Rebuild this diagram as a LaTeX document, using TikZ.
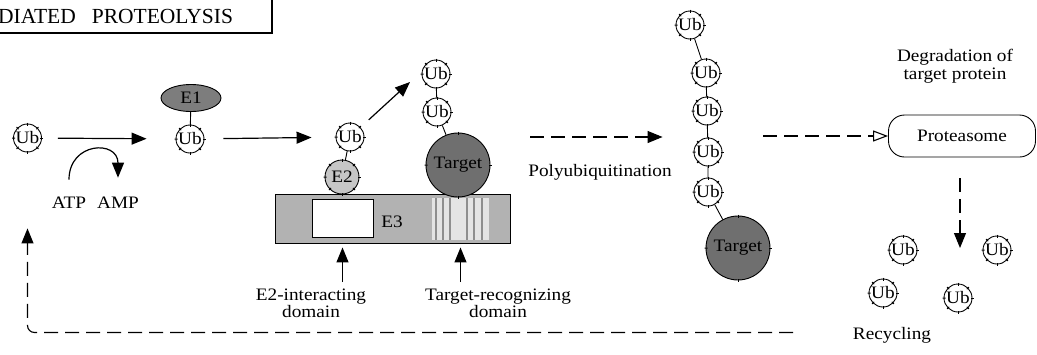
\documentclass[tikz,border=0pt]{standalone}
\usepackage{fontspec}
\setmainfont{Liberation Serif}[FakeStretch=1.1]
\newfontfamily\headfont{Liberation Serif}
\usetikzlibrary{arrows.meta,shapes.geometric,decorations.markings}
\definecolor{GrisEnz}{HTML}{7D7D7D}
\definecolor{GrisDiana}{HTML}{6F6F6F}
\definecolor{GrisClaro}{HTML}{C6C6C6}
\definecolor{GrisBarra}{HTML}{B2B2B2}
\definecolor{GrisFranja}{HTML}{E4E4E4}
\definecolor{GrisLinea}{HTML}{8E8E8E}

\begin{document}
\begin{tikzpicture}[
  x=1pt,y=-1pt,
  every node/.style={font=\fontsize{17.5}{18}\selectfont},
  marcas/.style={postaction={decorate,decoration={markings,
      mark=between positions 0 and 0.99 step #1 with {\draw[line width=1pt] (0,-1.5pt) -- (0,1.5pt);}}}},
  ub/.style={circle,draw,line width=0.9pt,fill=white,minimum size=28pt,inner sep=0pt,marcas=0.125},
  diana/.style={circle,draw,line width=0.9pt,fill=GrisDiana,minimum size=64pt,inner sep=0pt,marcas=0.25},
  enlace/.style={line width=0.9pt},
  flow/.style={-{Triangle[length=15pt,width=12pt]},line width=1.2pt},
  dflow/.style={flow,line width=1.1pt,dash pattern=on 14pt off 7pt},
  etiqueta/.style={align=center,inner sep=0pt,font=\fontsize{17.5}{15}\selectfont}
]
  \useasboundingbox (0,0) rectangle (1037,354);
  \clip (0,0) rectangle (1037,354);

  % titulo
  \draw[line width=2.4pt] (-10,-10) rectangle (272,33);
  \node[anchor=base west,inner sep=0pt,font=\headfont\fontsize{21.5}{22}\selectfont] (titulo)
    at (-2,23) {DIATED\hspace{16pt}PROTEOLYSIS};

  % activacion E1
  \node[ub] (ub0) at (27.5,138) {Ub};
  \node[ellipse,draw,line width=0.9pt,fill=GrisEnz,minimum width=60pt,minimum height=27pt,inner sep=0pt]
    (e1) at (191,98) {E1};
  \node[ub] (ub1) at (190,139) {Ub};
  \draw[enlace] (e1) -- (ub1);
  \node (atp) at (69,203) {ATP};
  \node (amp) at (118,203) {AMP};
  \draw[flow,shorten <=16pt,shorten >=29pt] (ub0) -- (ub1);
  \draw[flow] ([yshift=14pt]atp.north) .. controls +(0,-38) and +(0,-38) .. ([yshift=16pt]amp.north);

  % E3 con dominios
  \node[draw,line width=0.9pt,fill=GrisBarra,minimum width=235pt,minimum height=49pt,inner sep=0pt]
    (e3) at (392.5,218.5) {};
  \node[draw,line width=0.9pt,fill=white,minimum width=61pt,minimum height=38pt,inner sep=0pt]
    (dome2) at (342.5,218) {};
  \node (e3lab) at (392,222) {E3};
  \node[fill=GrisFranja,minimum width=57pt,minimum height=42pt,inner sep=0pt] (domdiana) at (460.5,219) {};
  \foreach \x in {436,443,450,467,474,482}
    \draw[GrisLinea,line width=2pt] (\x,198) -- (\x,240);

  \node[circle,draw,line width=0.9pt,fill=GrisClaro,minimum size=34pt,inner sep=0pt,marcas=0.125]
    (e2) at (342,177) {E2};
  \node[ub] (ub2) at (350,137) {Ub};
  \draw[enlace] (ub2) -- (e2);
  \draw[flow,shorten <=19pt,shorten >=24pt] (ub1) -- (ub2);

  \node[diana] (diana1) at (458,165) {Target};
  \node[ub] (ub3) at (437,112) {Ub};
  \node[ub] (ub4) at (436,74) {Ub};
  \draw[enlace] (ub4) -- (ub3) -- (diana1);
  \coordinate (salto) at (410,82);
  \draw[flow,shorten <=11pt] (ub2) -- (salto);

  \node[etiqueta,anchor=north] (labe2) at (311,289) {E2-interacting\\domain};
  \node[etiqueta,anchor=north] (labdiana) at (498,289) {Target-recognizing\\domain};
  \draw[flow,shorten <=7pt,shorten >=4pt] (labe2.north -| dome2) -- (dome2 |- e3.south);
  \draw[flow,shorten <=7pt,shorten >=4pt] (labdiana.north -| domdiana) -- (domdiana |- e3.south);

  % poliubiquitinacion
  \node (poly) at (600,172) {Polyubiquitination};
  \coordinate (polyin) at (530,137);
  \node[ub] (ub5) at (690,25) {Ub};
  \node[ub] (ub6) at (706,73) {Ub};
  \node[ub] (ub7) at (707,111) {Ub};
  \node[ub] (ub8) at (708,152) {Ub};
  \node[ub] (ub9) at (708,192) {Ub};
  \node[diana] (diana2) at (738,248) {Target};
  \draw[enlace] (ub5) -- (ub6) -- (ub7) -- (ub8) -- (ub9) -- (diana2);
  \draw[dflow,shorten >=31pt] (polyin) -- (polyin -| ub8.west);

  % proteasoma
  \node[draw,line width=0.9pt,rounded corners=16pt,minimum width=147pt,minimum height=42pt]
    (prot) at (962,136) {Proteasome};
  \node[align=center,inner sep=0pt,font=\fontsize{17.5}{18.5}\selectfont] (degr)
    at (955,66) {Degradation of\\target protein};
  \draw[dflow,-{Triangle[open,length=15pt,width=11pt]},shorten <=41pt] (prot.west -| ub8.east) -- (prot.west);

  % reciclaje
  \coordinate (reciclaje) at (960,248);
  \draw[dflow,shorten <=21pt] (prot.south -| reciclaje) -- (reciclaje);
  \node[ub] (ub10) at (903,250) {Ub};
  \node[ub] (ub11) at (997,250) {Ub};
  \node[ub] (ub12) at (883,293) {Ub};
  \node[ub] (ub13) at (958,298) {Ub};
  \node (recic) at (892,335) {Recycling};
  \coordinate (vuelta) at (793,332.5);
  \draw[dflow,rounded corners=7pt,shorten >=76pt] (vuelta) -| (ub0.south);
\end{tikzpicture}
\end{document}
